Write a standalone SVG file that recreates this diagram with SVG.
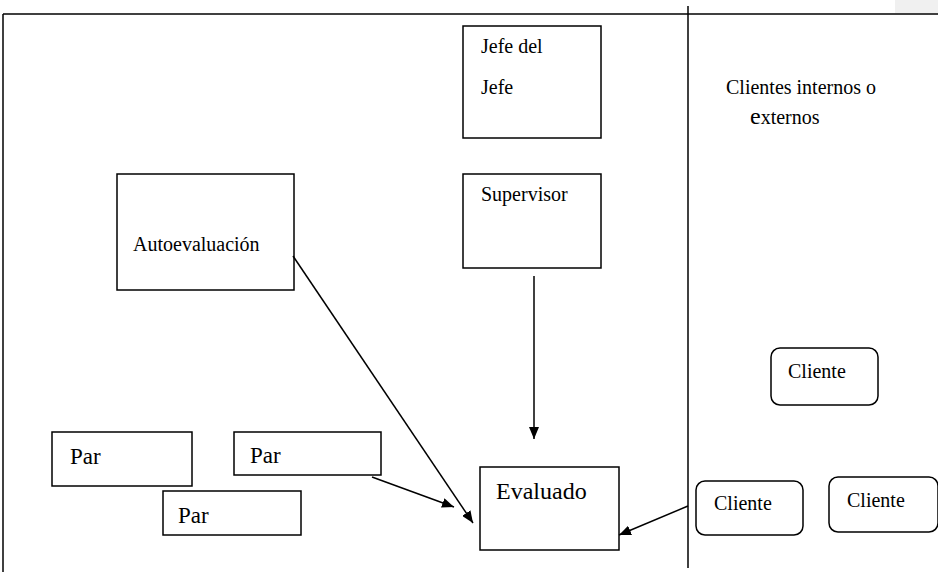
<svg xmlns="http://www.w3.org/2000/svg" width="938" height="572" viewBox="0 0 938 572">
<defs>
<style>
.b{fill:#fff;stroke:#000;stroke-width:1.5}
.l{stroke:#000;stroke-width:1.5;fill:none}
.t{font-family:'Liberation Serif','Times New Roman',Times,serif;font-size:20px;fill:#000}
.p{font-size:23px}
.v{font-size:24px}
.big{font-size:24px}
</style>
<marker id="ah" viewBox="0 0 12 10" refX="12" refY="5" markerWidth="12" markerHeight="10" markerUnits="userSpaceOnUse" orient="auto">
<path d="M0,0 L12,5 L0,10 z" fill="#000"/>
</marker>
</defs>
<rect x="0" y="0" width="938" height="572" fill="#fff"/>
<rect x="895" y="0" width="43" height="13" fill="#f0f0f0"/>
<g id="frame">
<line class="l" x1="3" y1="14" x2="938" y2="14"/>
<line class="l" x1="3" y1="14" x2="3" y2="572"/>
<line class="l" x1="688" y1="6" x2="688" y2="568"/>
</g>
<g id="jefe">
<rect class="b" x="463" y="26" width="138" height="112"/>
<text class="t" x="481" y="53">Jefe del</text>
<text class="t" x="481" y="94">Jefe</text>
</g>
<g id="supervisor">
<rect class="b" x="463" y="174" width="138" height="94"/>
<text class="t" x="481" y="201">Supervisor</text>
</g>
<g id="autoevaluacion">
<rect class="b" x="117" y="174" width="177" height="116"/>
<text class="t" x="133" y="251">Autoevaluación</text>
</g>
<g id="clientes-label">
<text class="t" x="726" y="94">Clientes internos o</text>
<text class="t" x="750" y="124"><tspan class="big">e</tspan>xternos</text>
</g>
<g id="par1">
<rect class="b" x="52" y="432" width="140" height="54"/>
<text class="t p" x="70" y="464">Par</text>
</g>
<g id="par2">
<rect class="b" x="234" y="432" width="147" height="43"/>
<text class="t p" x="250" y="463">Par</text>
</g>
<g id="par3">
<rect class="b" x="163" y="491" width="138" height="44"/>
<text class="t p" x="178" y="523">Par</text>
</g>
<g id="evaluado">
<rect class="b" x="480" y="467" width="139" height="83"/>
<text class="t v" x="496" y="499">Evaluado</text>
</g>
<g id="cliente1">
<rect class="b" x="771" y="348" width="107" height="57" rx="9"/>
<text class="t" x="788" y="378">Cliente</text>
</g>
<g id="cliente2">
<rect class="b" x="696" y="481" width="107" height="54" rx="9"/>
<text class="t" x="714" y="510">Cliente</text>
</g>
<g id="cliente3">
<rect class="b" x="829" y="477" width="109" height="55" rx="9"/>
<text class="t" x="847" y="507">Cliente</text>
</g>
<g id="connectors">
<line class="l" x1="534" y1="276" x2="534" y2="439" marker-end="url(#ah)"/>
<line class="l" x1="293" y1="256" x2="473" y2="523" marker-end="url(#ah)"/>
<line class="l" x1="372" y1="477" x2="454" y2="507" marker-end="url(#ah)"/>
<line class="l" x1="688" y1="506" x2="619" y2="535" marker-end="url(#ah)"/>
</g>
</svg>
